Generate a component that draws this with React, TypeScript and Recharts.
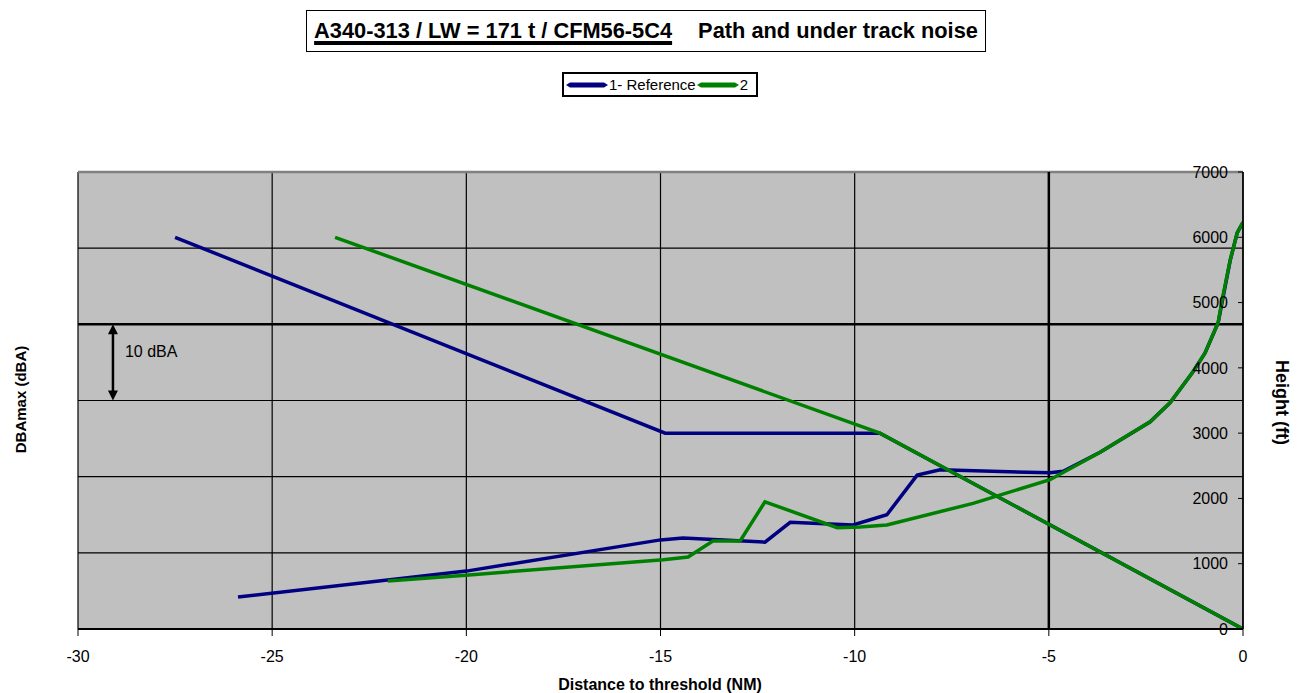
import React from "react";
import { LineChart, Line, XAxis, YAxis, CartesianGrid, ReferenceLine, Legend } from "recharts";

// Distance to threshold (NM) ticks
const xTicks = [-30, -25, -20, -15, -10, -5, 0];
// Height (ft) ticks, right axis
const heightTicks = [0, 1000, 2000, 3000, 4000, 5000, 6000, 7000];
// DBAmax (dBA) grid ticks, left axis (unlabelled)
const dbaTicks = [40, 50, 60, 70, 80, 90, 100];

// 1- Reference : flight path height (ft)
const refPathDist = [-27.5, -14.88, -9.35, 0];
const refPathHeight = [6000, 3000, 3000, 0];

// 2 : flight path height (ft)
const p2PathDist = [-23.38, -9.35, 0];
const p2PathHeight = [6000, 3000, 0];

// 1- Reference : under-track noise (dBA)
const refNoiseDist = [-25.88, -20, -15, -14.42, -12.31, -11.66, -10.04, -9.17, -8.39, -7.8, -4.97, -4.63, -3.68, -2.39, -1.88, -1.31, -0.98, -0.64, -0.33, -0.15, 0];
const refNoiseDba = [44.2, 47.6, 51.7, 51.95, 51.4, 54.0, 53.65, 55.0, 60.2, 60.9, 60.5, 60.7, 63.2, 67.2, 69.7, 73.6, 76.2, 80.2, 88.4, 92.0, 93.4];

// 2 : under-track noise (dBA)
const p2NoiseDist = [-22.02, -19.93, -14.93, -14.29, -13.65, -12.95, -12.31, -10.45, -9.86, -9.17, -6.95, -4.97, -3.68, -2.39, -1.88, -1.31, -0.98, -0.64, -0.54, -0.33, -0.15, 0];
const p2NoiseDba = [46.3, 47.1, 49.1, 49.45, 51.55, 51.55, 56.7, 53.3, 53.4, 53.65, 56.5, 59.6, 63.2, 67.2, 69.7, 73.6, 76.2, 80.2, 83.2, 88.4, 92.0, 93.4];

// annotation
const arrowDist = -29.1;
const arrowTop = 80;
const arrowBottom = 70;

const zip = (xs: number[], ys: number[]) => xs.map((x, i) => ({ x, y: ys[i] }));

const refPath = zip(refPathDist, refPathHeight);
const p2Path = zip(p2PathDist, p2PathHeight);
const refNoise = zip(refNoiseDist, refNoiseDba);
const p2Noise = zip(p2NoiseDist, p2NoiseDba);

const FONT = "'Liberation Sans', Arial, Helvetica, sans-serif";
const BLUE = "#000080";
const GREEN = "#008000";
const LW = 3.5;

const ArrowShape = (props: any) => {
  const { x1, y1, x2, y2 } = props;
  if (x1 == null || y1 == null) return null;
  const top = Math.min(y1, y2);
  const bot = Math.max(y1, y2);
  const x = x1;
  return (
    <g>
      <line x1={x} y1={top + 8} x2={x} y2={bot - 8} stroke="#000" strokeWidth={2.5} />
      <polygon points={`${x},${top} ${x - 5},${top + 10} ${x + 5},${top + 10}`} fill="#000" />
      <polygon points={`${x},${bot} ${x - 5},${bot - 10} ${x + 5},${bot - 10}`} fill="#000" />
      <text x={x + 12} y={top + 33} fontSize={16} fontFamily={FONT} fill="#000">10 dBA</text>
    </g>
  );
};

const LegendBox = (props: any) => {
  const items = (props.payload || []).filter((p: any) => p.type !== "none");
  return (
    <div
      style={{
        border: "2px solid #000",
        background: "#fff",
        display: "flex",
        alignItems: "center",
        height: 25,
        padding: "0 2px",
        fontFamily: FONT,
        fontSize: 15,
        color: "#000",
        boxSizing: "border-box",
        width: 196,
        whiteSpace: "nowrap",
      }}
    >
      {items.map((it: any, i: number) => (
        <span key={i} style={{ display: "flex", alignItems: "center", marginRight: 1 }}>
          <svg width={42} height={8} style={{ marginRight: 1 }}>
            <polygon points="0,4 4,1.5 38,1.5 42,4 38,6.5 4,6.5" fill={it.color} />
          </svg>
          <span>{it.value}</span>
        </span>
      ))}
    </div>
  );
};

const titleStyle: React.CSSProperties = {
  position: "absolute",
  fontWeight: "bold",
  color: "#000",
  whiteSpace: "nowrap",
  textAlign: "center",
};

export default function App() {
  return (
    <div style={{ position: "absolute", left: 0, top: 0, width: 1301, height: 693, background: "#fff", fontFamily: FONT }}>
      <div
        style={{
          position: "absolute",
          left: 306,
          top: 10,
          width: 680,
          height: 42,
          border: "1.5px solid #000",
          boxSizing: "border-box",
          display: "flex",
          alignItems: "center",
          justifyContent: "center",
          fontSize: 21.8,
          fontWeight: "bold",
          whiteSpace: "nowrap",
          color: "#000",
        }}
      >
        <span style={{ textDecoration: "underline", textDecorationThickness: 4, textUnderlineOffset: 3 }}>
          A340-313 / LW = 171 t / CFM56-5C4
        </span>
        <span style={{ marginLeft: 26 }}>Path and under track noise</span>
      </div>

      <LineChart width={1301} height={693} margin={{ top: 147, right: 58, bottom: 0, left: 78 }}>
        <CartesianGrid yAxisId="left" horizontal={false} fill="#c0c0c0" stroke="#000" strokeWidth={1.2} />
        <XAxis
          dataKey="x"
          type="number"
          domain={[-30, 0]}
          ticks={xTicks}
          allowDataOverflow
          height={64}
          tickSize={7}
          tickMargin={15}
          axisLine={{ stroke: "#000", strokeWidth: 2 }}
          tickLine={{ stroke: "#000" }}
          tick={{ fontSize: 16, fill: "#000", fontFamily: FONT }}
        />
        <YAxis
          yAxisId="left"
          type="number"
          domain={[40, 100]}
          ticks={dbaTicks}
          allowDataOverflow
          width={0}
          tick={false}
          tickLine={false}
          axisLine={{ stroke: "#808080", strokeWidth: 2 }}
        />
        <YAxis
          yAxisId="right"
          orientation="right"
          mirror
          type="number"
          domain={[0, 7000]}
          ticks={heightTicks}
          allowDataOverflow
          tickSize={5}
          tickMargin={10}
          axisLine={{ stroke: "#000", strokeWidth: 1.5 }}
          tickLine={{ stroke: "#000" }}
          tick={{ fontSize: 16, fill: "#000", fontFamily: FONT }}
        />
        {dbaTicks.map((t) => (
          <ReferenceLine
            key={t}
            yAxisId="left"
            y={t}
            stroke={t === 100 ? "#808080" : "#000"}
            strokeWidth={t === 80 || t === 100 ? 2.5 : 1.2}
          />
        ))}
        <ReferenceLine yAxisId="left" x={-5} stroke="#000" strokeWidth={2.5} />
        <ReferenceLine
          yAxisId="left"
          segment={[
            { x: arrowDist, y: arrowTop },
            { x: arrowDist, y: arrowBottom },
          ]}
          shape={ArrowShape}
        />
        <Legend
          verticalAlign="top"
          content={LegendBox}
          wrapperStyle={{ position: "absolute", top: 72, left: 562, width: 196 }}
        />
        <Line
          yAxisId="right"
          data={refPath}
          dataKey="y"
          name="1- Reference path"
          stroke={BLUE}
          strokeWidth={LW}
          dot={false}
          legendType="none"
          isAnimationActive={false}
        />
        <Line
          yAxisId="left"
          data={refNoise}
          dataKey="y"
          name="1- Reference"
          stroke={BLUE}
          strokeWidth={LW}
          dot={false}
          isAnimationActive={false}
        />
        <Line
          yAxisId="right"
          data={p2Path}
          dataKey="y"
          name="2 path"
          stroke={GREEN}
          strokeWidth={LW}
          dot={false}
          legendType="none"
          isAnimationActive={false}
        />
        <Line
          yAxisId="left"
          data={p2Noise}
          dataKey="y"
          name="2"
          stroke={GREEN}
          strokeWidth={LW}
          dot={false}
          isAnimationActive={false}
        />
      </LineChart>

      <div style={{ ...titleStyle, left: 460, width: 400, top: 676, fontSize: 16 }}>
        Distance to threshold (NM)
      </div>
      <div style={{ ...titleStyle, left: 20 - 80, top: 400 - 9, width: 160, fontSize: 15, transform: "rotate(-90deg)" }}>
        DBAmax (dBA)
      </div>
      <div style={{ ...titleStyle, left: 1281 - 80, top: 402 - 10, width: 160, fontSize: 18, transform: "rotate(90deg)" }}>
        Height (ft)
      </div>
    </div>
  );
}
